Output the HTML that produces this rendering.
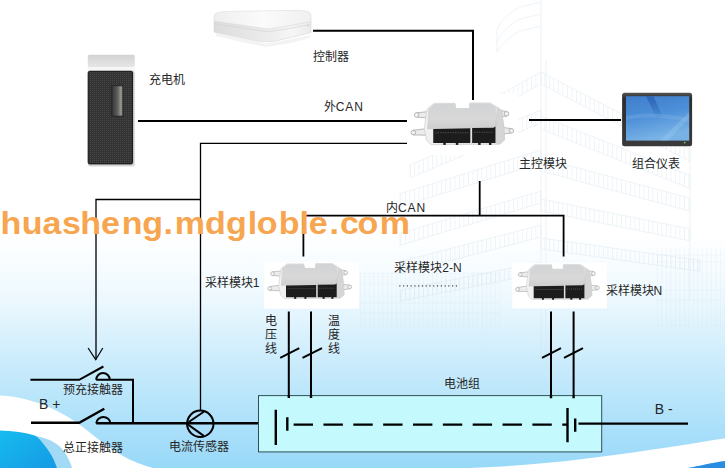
<!DOCTYPE html>
<html lang="zh-CN"><head><meta charset="utf-8">
<style>
html,body{margin:0;padding:0;width:725px;height:468px;overflow:hidden;background:#fff;}
svg{display:block;position:absolute;left:0;top:0;}
text{font-family:"Liberation Sans",sans-serif;}
.t{font-size:12px;fill:#262626;}
</style></head><body>
<svg width="725" height="468" viewBox="0 0 725 468">
<defs>
<linearGradient id="bg" gradientUnits="userSpaceOnUse" x1="0" y1="0" x2="0" y2="468">
<stop offset="0.0000" stop-color="#ffffff"/>
<stop offset="0.5021" stop-color="#ffffff"/>
<stop offset="0.5876" stop-color="#f4fbff"/>
<stop offset="0.6410" stop-color="#ecf8fe"/>
<stop offset="0.7051" stop-color="#dcf2fd"/>
<stop offset="0.7692" stop-color="#ccecfc"/>
<stop offset="0.8547" stop-color="#b8e5fa"/>
<stop offset="0.9188" stop-color="#aadffa"/>
<stop offset="1.0000" stop-color="#98d9f8"/>
</linearGradient>
<linearGradient id="blob" x1="0" y1="0" x2="1" y2="1">
<stop offset="0" stop-color="#14bdf0"/><stop offset="1" stop-color="#1a96e2"/>
</linearGradient>

<linearGradient id="plate" x1="0" y1="0" x2="0" y2="1">
<stop offset="0" stop-color="#d2d3d4"/><stop offset="0.6" stop-color="#d8d8d9"/><stop offset="1" stop-color="#cdcdce"/>
</linearGradient>
<linearGradient id="flange" x1="0" y1="0" x2="1" y2="0">
<stop offset="0" stop-color="#f2f2f2"/><stop offset="0.5" stop-color="#e0e0e0"/><stop offset="1" stop-color="#ececec"/>
</linearGradient>
<linearGradient id="scr" x1="0" y1="0" x2="0.3" y2="1">
<stop offset="0" stop-color="#3f7dcb"/><stop offset="0.5" stop-color="#4d8fd8"/><stop offset="1" stop-color="#79b3e6"/>
</linearGradient>
<linearGradient id="bez" x1="0" y1="0" x2="0" y2="1">
<stop offset="0" stop-color="#555"/><stop offset="0.1" stop-color="#2e2e2e"/><stop offset="1" stop-color="#3a3a3a"/>
</linearGradient>
<linearGradient id="chtop" x1="0" y1="0" x2="0" y2="1">
<stop offset="0" stop-color="#d3d3d3"/><stop offset="1" stop-color="#e6e6e6"/>
</linearGradient>
<linearGradient id="handle" x1="0" y1="0" x2="1" y2="0">
<stop offset="0" stop-color="#3a3a3a"/><stop offset="0.5" stop-color="#5e5e5b"/><stop offset="0.85" stop-color="#9a9a94"/><stop offset="1" stop-color="#6a6a66"/>
</linearGradient>
<linearGradient id="ctop" x1="0" y1="0" x2="1" y2="0">
<stop offset="0" stop-color="#eeeeee"/><stop offset="0.5" stop-color="#fbfbfb"/><stop offset="1" stop-color="#f0f0f0"/>
</linearGradient>
<linearGradient id="cside" x1="0" y1="0" x2="1" y2="0">
<stop offset="0" stop-color="#dcdcdc"/><stop offset="0.55" stop-color="#ececec"/><stop offset="0.8" stop-color="#f6f6f6"/><stop offset="1" stop-color="#ebebeb"/>
</linearGradient>
<pattern id="mesh" x="0" y="0" width="2" height="2" patternUnits="userSpaceOnUse">
<rect width="2" height="2" fill="#333"/><rect width="1" height="1" fill="#474747"/>
</pattern>
<pattern id="hatch" x="0" y="0" width="4.5" height="4" patternUnits="userSpaceOnUse">
<rect x="0" y="0" width="0.8" height="4" fill="#cfdfe9"/>
</pattern>
<linearGradient id="streak" x1="0" y1="0" x2="0" y2="1">
<stop offset="0" stop-color="#2a62b4" stop-opacity="0.9"/><stop offset="1" stop-color="#2a62b4" stop-opacity="0"/>
</linearGradient>
<filter id="soft" filterUnits="userSpaceOnUse" x="-20" y="380" width="770" height="110"><feGaussianBlur stdDeviation="0.7"/></filter>
<g id="ecu">
<g fill="#ececec" stroke="#a4a4a4" stroke-width="0.6">
<path d="M8.3 10.2L17.5 9.2L17 14.5L8.3 13.8Z"/>
<path d="M5.6 24.8L15.5 23.6L16 29L5.6 28.8Z"/>
<path d="M81.5 9L74.5 8L75.5 13.5L81.5 13Z"/>
<path d="M85.5 23.4L77.5 22.5L78.5 28L85.5 27.2Z"/>
<circle cx="8.3" cy="12" r="1.9"/><circle cx="5.6" cy="26.8" r="1.9"/>
<circle cx="81.5" cy="11" r="1.9"/><circle cx="85.5" cy="25.3" r="1.9"/>
</g>
<g fill="#fff"><circle cx="8.3" cy="12" r="0.7"/><circle cx="5.6" cy="26.8" r="0.7"/><circle cx="81.5" cy="11" r="0.7"/><circle cx="85.5" cy="25.3" r="0.7"/></g>
<path d="M16.4 8L17.8 6L22.7 2.2L39.4 2.2L40.3 6.6L51.3 6.6L51.6 1.9L68.2 1.9L73.7 5.3L77.5 8L79.5 22L80 33L76 36.6L20 37L16.5 33.5L14.5 24Z" fill="url(#flange)" stroke="#c8c8c8" stroke-width="0.5"/>
<path d="M17.8 7.1L22.7 2.8L39.7 2.6L40.6 6.6L51 6.6L51.4 2.4L68.2 2.4L72.7 5.6L73.7 21.5L70.7 22.7L21.8 23.7L16.8 24Z" fill="url(#plate)"/>
<path d="M73.7 5.6L77.5 8L79.5 22L80 33L76 36.6L72 36L72 22.7Z" fill="#c6c6c6" opacity="0.6"/>
<path d="M21.8 23.7L52 23.2L52 35.6L21.8 35.6Z" fill="#1c1c1c"/>
<path d="M53.5 23L70.7 22.7L72.5 21.8L72.5 35.6L53.5 35.6Z" fill="#1c1c1c"/>
<path d="M23.5 27H50.5M55 26.5H70" stroke="#555" stroke-width="0.9" stroke-dasharray="1 1"/>
<g fill="#1c1c1c"><rect x="40.2" y="35" width="2" height="2.2"/><rect x="58.4" y="35" width="2" height="2.2"/><rect x="67.2" y="35" width="2" height="2.2"/><rect x="30" y="35" width="2" height="2.2"/></g>
</g>
</defs>
<rect x="0" y="0" width="725" height="468" fill="url(#bg)"/>
<!-- swooshes -->
<g filter="url(#soft)">
<path d="M-5 395.3L0 395.5C20 396.5 40 402 60 412.4C75 420 88 431 100 440.5C115 452 130 462 153 468L165 475L-5 475Z" fill="#fff"/>
<path d="M28 435C40 436 50 439 58 445C64 450 69 458 72 468L73 475L30 475Z" fill="#a2d9f5"/>
<path d="M-5 430.4L0 430.5C12 431 26 432.5 34.7 435.5C37 436.5 39 438.5 41 441C44.5 445 47.5 449 49.6 452.3C52.5 457 55 462 57 468L59 475L-5 475Z" fill="url(#blob)"/>
<path d="M430 475L470 468C540 465.5 600 457.5 651 449.8C680 445.5 705 441.5 725 438.2L732 437L732 460C725 461 710 463 700 466 L687.6 468L670 475Z" fill="#fff"/>
<path d="M687.6 468C700 466 710 463 725 461L732 460L732 475L670 475Z" fill="#2b8ee0"/>
</g>
<!-- building watermark -->
<g opacity="0.4">
<path d="M541 72L690 149.5L690 161.5L541 84Z" fill="url(#hatch)" stroke="#c9dbe7" stroke-width="0.8"/>
<path d="M541 116L690 175.6L690 188.6L541 129Z" fill="url(#hatch)" stroke="#c9dbe7" stroke-width="0.8"/>
<path d="M541 158L690 198.2L690 211.2L541 171Z" fill="url(#hatch)" stroke="#c9dbe7" stroke-width="0.8"/>
<path d="M541 199L690 228.8L690 240.8L541 211Z" fill="url(#hatch)" stroke="#c9dbe7" stroke-width="0.8"/>
<path d="M541 238L700 260.3L700 271.3L541 249Z" fill="url(#hatch)" stroke="#c9dbe7" stroke-width="0.8"/>
<path d="M541 72L420 138.6L420 150.6L541 84Z" fill="url(#hatch)" stroke="#c9dbe7" stroke-width="0.8"/>
<path d="M541 110L410 165.0L410 178.0L541 123Z" fill="url(#hatch)" stroke="#c9dbe7" stroke-width="0.8"/>
<path d="M541 150L400 193.7L400 206.7L541 163Z" fill="url(#hatch)" stroke="#c9dbe7" stroke-width="0.8"/>
<path d="M541 191L400 233.3L400 245.3L541 203Z" fill="url(#hatch)" stroke="#c9dbe7" stroke-width="0.8"/>
<path d="M541 225L400 261.7L400 273.7L541 237Z" fill="url(#hatch)" stroke="#c9dbe7" stroke-width="0.8"/>
<path d="M541 262L400 290.2L400 301.2L541 273Z" fill="url(#hatch)" stroke="#c9dbe7" stroke-width="0.8"/>
<path d="M541 0V420M546 60V420M690 100V300" stroke="#d2e1ea" stroke-width="1" fill="none"/>
<path d="M540 2C530 6 522 4 512 12C505 18 500 22 497 30M540 14C530 18 522 16 512 24C505 30 500 34 497 42M540 26C530 30 522 28 512 36C505 42 500 46 497 52M497 30V52" stroke="#d2e1ea" stroke-width="1" fill="none"/>
</g>
<g opacity="0.25" stroke="#cfdfe9" stroke-width="0.8" fill="none">
<rect x="360" y="272" width="140" height="58" fill="url(#hatch)" stroke="none"/>
<path d="M360 273.5H500M360 284H500M360 303H500M360 313H500M360 326H500M482.7 290V400"/>
<rect x="656" y="248" width="69" height="82" fill="url(#hatch)" stroke="none"/>
<path d="M656 255H725M656 262H725M656 290H725M656 300H725M656 325H725"/>
</g>
<!-- devices -->
<rect x="405" y="94" width="113" height="61" fill="#fff"/>
<rect x="264.2" y="261.7" width="94.8" height="46.9" fill="#fff"/>
<rect x="512.3" y="262.9" width="94.7" height="45.5" fill="#fff"/>
<use href="#ecu" transform="translate(406.5 100.7) scale(1.227 1.189)"/>
<use href="#ecu" transform="translate(264.2 261.7)"/>
<use href="#ecu" transform="translate(511.9 262.55)"/>
<!-- charger -->
<rect x="87.8" y="54.8" width="47" height="12.2" rx="1.5" fill="url(#chtop)"/>
<rect x="87.8" y="67" width="47" height="4" fill="#f6f6f6"/>
<rect x="87.8" y="70.6" width="47" height="96" rx="2.5" fill="#d6d6d6"/>
<rect x="88.2" y="71.3" width="44.4" height="92.6" rx="1.5" fill="url(#mesh)" stroke="#151515" stroke-width="1"/>
<rect x="110.8" y="84.9" width="12.6" height="32" fill="#2a2a2a"/>
<rect x="112.5" y="86.2" width="10" height="29.5" fill="url(#handle)"/>
<!-- controller -->
<path d="M216 33Q240 38 266 43.5Q290 40 310 35L310 38Q290 44 266 47Q240 42 216 36Z" fill="#f3f3f3"/>
<path d="M214 21Q240 25 268 29Q290 26 311 21.5L311 32.5Q300 35.5 274 41.3Q265 42.6 255 40.6Q235 36.5 214 32Z" fill="url(#cside)" stroke="#d6d6d6" stroke-width="0.6"/>
<path d="M215 23.8Q240 27.8 268 31.8Q290 28.8 310.5 24.3" fill="none" stroke="#d4d4d4" stroke-width="0.7"/>
<path d="M214 16Q214 12 226 11.5L299 10.3Q311 10.8 311 15L311 21.5Q290 26 268 29Q240 25 214 21Z" fill="url(#ctop)" stroke="#dedede" stroke-width="0.6"/>
<circle cx="308" cy="26" r="0.7" fill="#bbb"/>
<!-- monitor -->
<rect x="622.1" y="92.8" width="70" height="53.4" rx="2.5" fill="url(#bez)"/>
<rect x="626" y="96.2" width="63.2" height="44.4" fill="url(#scr)"/>
<path d="M646 96.2L653.5 96.2L663 118L657 119.5Z" fill="url(#streak)"/>
<path d="M626 116Q650 110 689.2 118L689.2 122Q650 114 626 120Z" fill="#8fc0ec" opacity="0.25"/>
<path d="M660 140.6L689.2 112L689.2 118L668 140.6Z" fill="#9fcdf2" opacity="0.3"/>
<circle cx="684.7" cy="142.6" r="0.9" fill="#6c6"/>
<!-- wires -->
<g stroke="#000" fill="none" stroke-width="2">
<path d="M313 30.7H473V100"/>
<path d="M138 121H407"/>
<path d="M529 120H621"/>
<path d="M407 143.4H200.5V410.8" stroke-width="1.3"/>
<path d="M96 359.5V199.5H200.5" stroke-width="1.3"/>
<path d="M303.4 256.5V215.6H563.6V256.4M479.7 181V215.6" stroke-width="1.8"/>
<!-- sample wires -->
<path d="M288.8 311.5V396.5M311 311.5V396.5M551 311.5V398M573.6 311.5V398"/>
<path d="M280.2 357.8L299.3 348.2M302.5 357.8L322 348.2"/>
<path d="M542 357.8L561 348.2M564 357.8L583 348.2"/>
<!-- main line -->
<path d="M31 422.8H79.2L104.3 408.8" stroke-width="2.4"/>
<path d="M96.2 423.3H258.5" stroke-width="2.4"/>
<path d="M96.2 423.3A7.2 7.2 0 0 1 110.5 423.3" />
<path d="M30.4 379.8H79.2L103.4 366.5" />
<path d="M96.2 379.8A6.8 6.8 0 0 1 109.8 379.8M96.2 379.8H133V423.3" />
<path d="M88.1 348L95.7 359.7L102.8 348" stroke-width="1.2"/>
<circle cx="200.3" cy="423.8" r="13.2"/>
<path d="M203.8 411.7L186.6 423.5L203.8 435.9"/>
</g>
<!-- battery -->
<rect x="258.5" y="395.6" width="343.2" height="56.3" fill="#c4fafd" stroke="#2f4f55" stroke-width="1"/>
<g stroke="#000" fill="none" stroke-width="2.4">
<path d="M288.8 395V398M311 395V398M551 395V398.3M573.6 395V398.3"/>
<path d="M578.5 423.7H688" stroke-width="2.2"/>
<path d="M275.8 409.7V444.9M287.3 417.3V430.8M567.5 408V442.2M575.2 418.6V431.7"/>
<path d="M293.6 424.6H567.5" stroke-dasharray="19.4 10.45"/>
</g>
</g>

<!-- watermark -->
<text transform="scale(1.08 1)" x="0.58 20.18 39.45 57.32 74.37 93.49 112.83 131.76 151.38 161.72 189.73 209.26 229.37 237.66 258.2 277.43 285.9 305.18 314.79 330.99 351.53" y="234" style="font-family:'Liberation Sans',sans-serif;font-weight:bold;font-size:31.5px;fill:#f7a54f">huasheng.mdgloble.com</text>
<!-- dots -->
<g fill="#333"><rect x="399.30" y="285.3" width="1.1" height="1.2"/><rect x="403.07" y="285.3" width="1.1" height="1.2"/><rect x="406.84" y="285.3" width="1.1" height="1.2"/><rect x="410.61" y="285.3" width="1.1" height="1.2"/><rect x="414.38" y="285.3" width="1.1" height="1.2"/><rect x="418.15" y="285.3" width="1.1" height="1.2"/><rect x="421.92" y="285.3" width="1.1" height="1.2"/><rect x="425.69" y="285.3" width="1.1" height="1.2"/><rect x="429.46" y="285.3" width="1.1" height="1.2"/><rect x="433.23" y="285.3" width="1.1" height="1.2"/><rect x="437.00" y="285.3" width="1.1" height="1.2"/><rect x="440.77" y="285.3" width="1.1" height="1.2"/><rect x="444.54" y="285.3" width="1.1" height="1.2"/><rect x="448.31" y="285.3" width="1.1" height="1.2"/><rect x="452.08" y="285.3" width="1.1" height="1.2"/><rect x="455.85" y="285.3" width="1.1" height="1.2"/></g>
<!-- texts -->
<g class="t">
<text x="312.8" y="60.7">控制器</text>
<text x="149.4" y="84.1">充电机</text>
<text x="323.7" y="110.9">外<tspan letter-spacing="0.9">CAN</tspan></text>
<text x="518.6" y="167.6">主控模块</text>
<text x="632" y="167.6">组合仪表</text>
<text x="386" y="212.2">内<tspan letter-spacing="0.9">CAN</tspan></text>
<text x="204.8" y="287.2">采样模块1</text>
<text x="394.3" y="272.2">采样模块2-N</text>
<text x="605.6" y="294.6">采样模块N</text>
<text x="264.5" y="324.6">电</text><text x="264.5" y="338.8">压</text><text x="264.5" y="353">线</text>
<text x="328.2" y="324.6">温</text><text x="328.2" y="338.8">度</text><text x="328.2" y="353">线</text>
<text x="443.6" y="388.4">电池组</text>
<text x="62.8" y="394.2">预充接触器</text>
<text x="63.2" y="452.4">总正接触器</text>
<text x="168.9" y="451.3">电流传感器</text>
<text x="39" y="409.4" style="font-size:14px">B +</text>
<text x="654.8" y="413.8" style="font-size:14px">B -</text>
</g>
</svg>
</body></html>
